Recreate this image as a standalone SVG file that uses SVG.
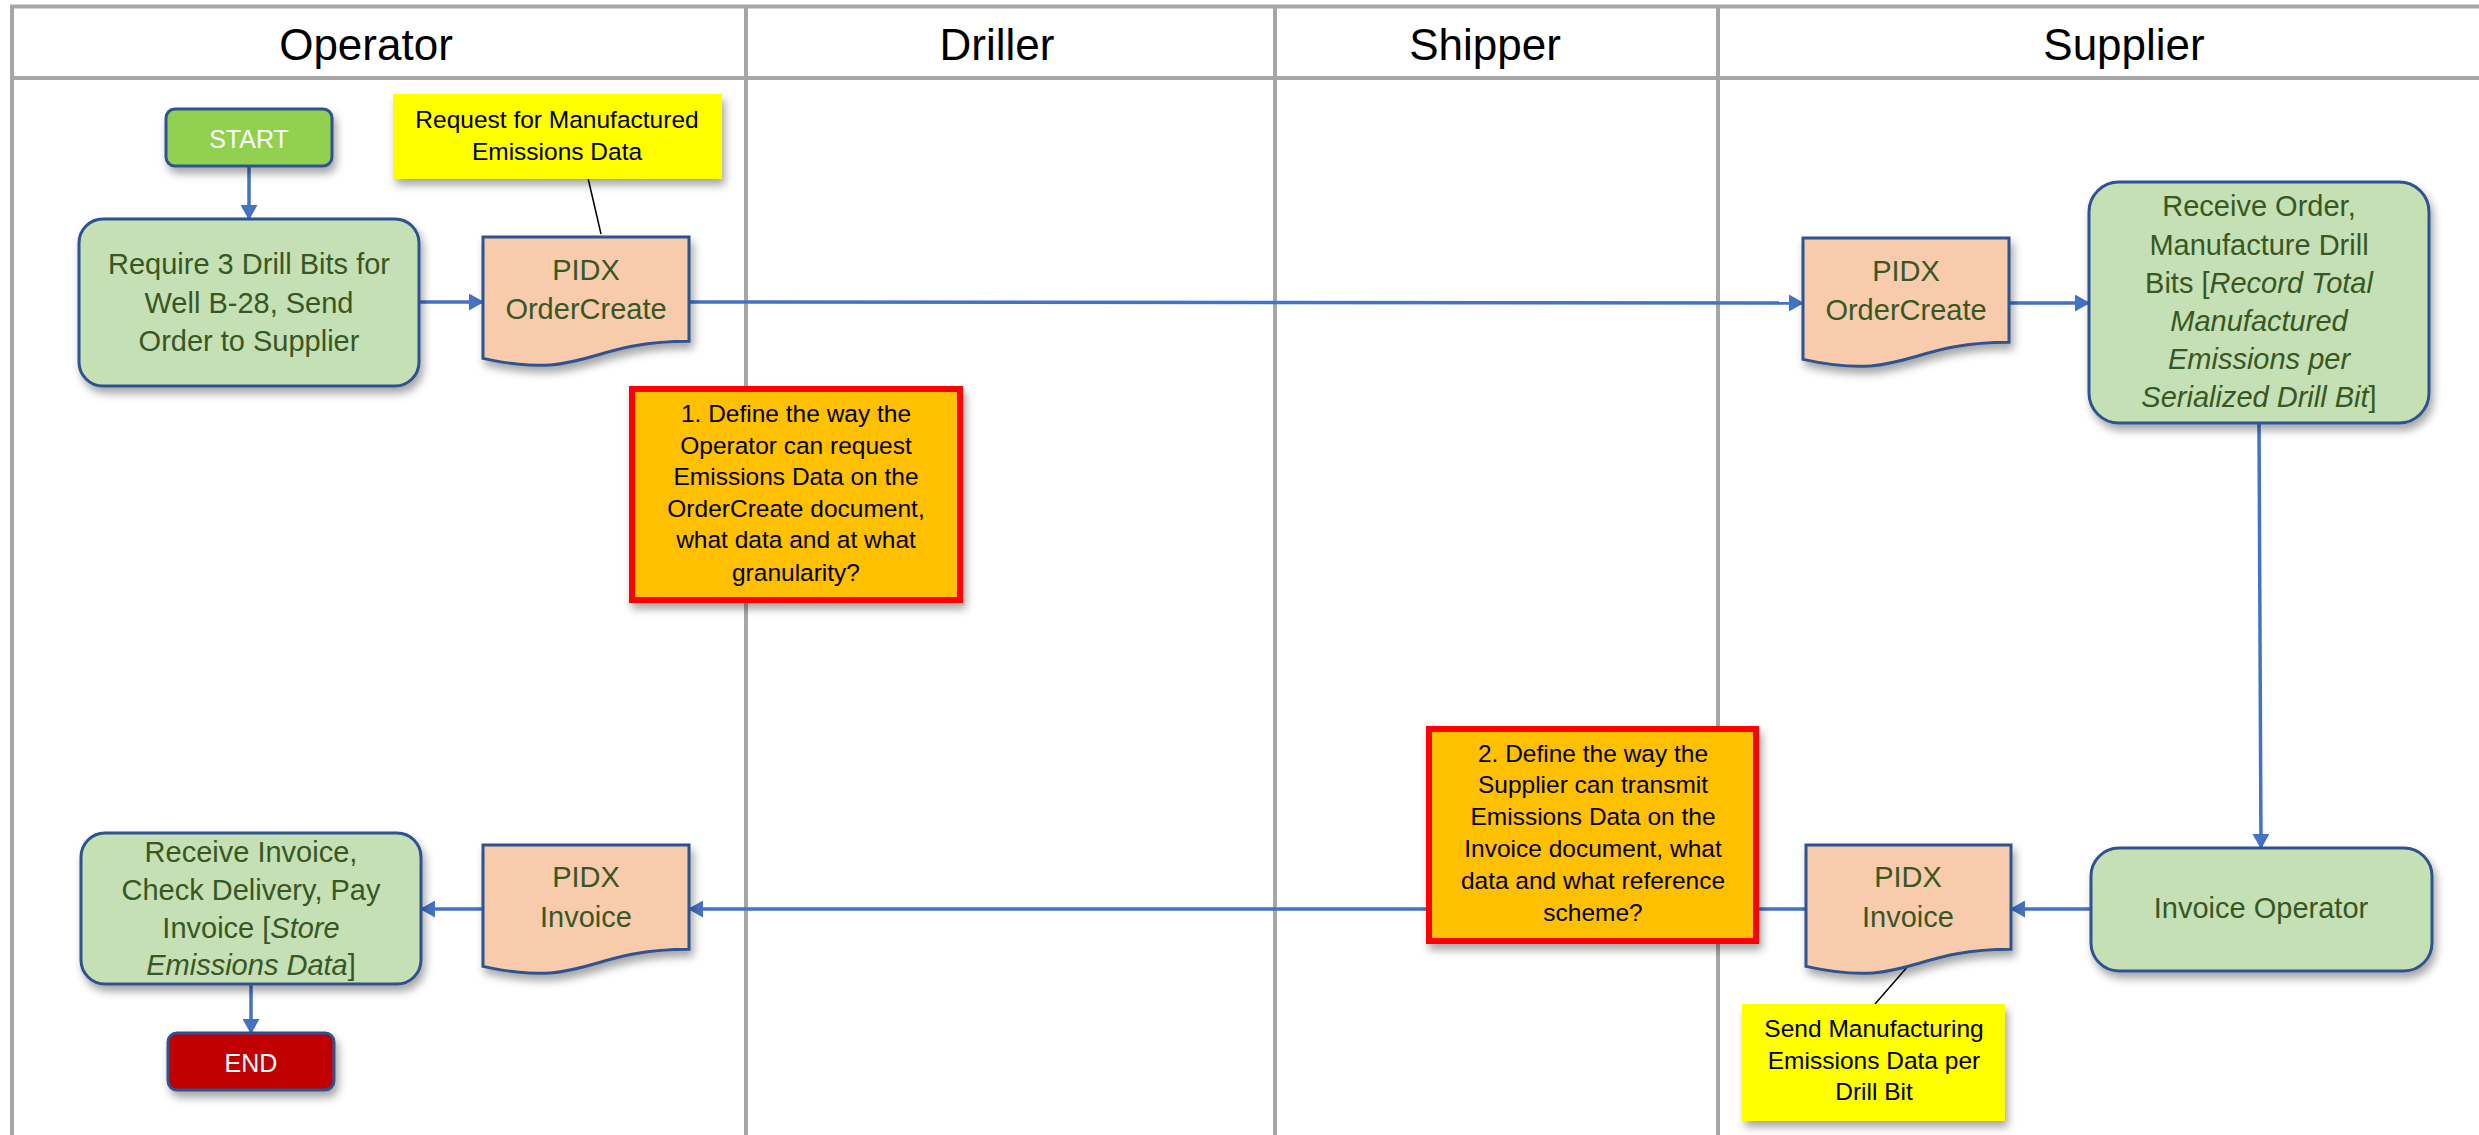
<svg xmlns="http://www.w3.org/2000/svg" width="2479" height="1135" viewBox="0 0 2479 1135">
<style>
text{font-family:"Liberation Sans",Arial,sans-serif}
.hdr{font-size:44px;fill:#000;text-anchor:middle}
.gt{font-size:29px;fill:#385723;text-anchor:middle}
.wt{font-size:25px;fill:#fff;text-anchor:middle}
.nt{font-size:24.5px;fill:#000;text-anchor:middle}
.it{font-style:italic}
.lane{stroke:#A6A6A6;stroke-width:4;fill:none}
.conn{stroke:#4472C4;stroke-width:3.5;fill:none}
.call{stroke:#000;stroke-width:1.5;fill:none}
.green{fill:#C5E0B4;stroke:#2F528F;stroke-width:3}
.doc{fill:#F8CBAD;stroke:#2F528F;stroke-width:3}
.note{fill:#FFC000;stroke:#FF0000;stroke-width:6}
.yel{fill:#FFFF00}
</style>
<defs>
<filter id="sh" x="-10%" y="-10%" width="130%" height="140%">
<feDropShadow dx="3" dy="6" stdDeviation="4" flood-color="#000" flood-opacity="0.35"/>
</filter>
<marker id="arr" markerUnits="userSpaceOnUse" markerWidth="15" markerHeight="17" refX="14" refY="8.5" orient="auto">
<path d="M0,0 L15,8.5 L0,17 Z" fill="#4472C4"/>
</marker>
</defs>
<rect width="2479" height="1135" fill="#fff"/>
<g id="lanes">
<line class="lane" x1="10" y1="6.5" x2="2479" y2="6.5"/>
<line class="lane" x1="12" y1="78" x2="2479" y2="78"/>
<line class="lane" x1="12" y1="5" x2="12" y2="1135"/>
<line class="lane" x1="746" y1="5" x2="746" y2="1135"/>
<line class="lane" x1="1275" y1="5" x2="1275" y2="1135"/>
<line class="lane" x1="1718" y1="5" x2="1718" y2="1135"/>
<text class="hdr" x="366" y="60">Operator</text>
<text class="hdr" x="997" y="60">Driller</text>
<text class="hdr" x="1485" y="60">Shipper</text>
<text class="hdr" x="2124" y="60">Supplier</text>
</g>
<g id="connectors">
<line class="conn" x1="249" y1="166" x2="249" y2="219" marker-end="url(#arr)"/>
<line class="conn" x1="419" y1="302" x2="483" y2="302" marker-end="url(#arr)"/>
<line class="conn" x1="689" y1="302" x2="1803" y2="303" marker-end="url(#arr)"/>
<line class="conn" x1="2009" y1="303" x2="2089" y2="303" marker-end="url(#arr)"/>
<line class="conn" x1="2259" y1="423" x2="2261" y2="848" marker-end="url(#arr)"/>
<line class="conn" x1="2091" y1="909" x2="2011" y2="909" marker-end="url(#arr)"/>
<line class="conn" x1="1806" y1="909" x2="689" y2="909" marker-end="url(#arr)"/>
<line class="conn" x1="483" y1="909" x2="421" y2="909" marker-end="url(#arr)"/>
<line class="conn" x1="251" y1="984" x2="251" y2="1033" marker-end="url(#arr)"/>
<line class="call" x1="588" y1="178" x2="601" y2="234"/>
<line class="call" x1="1909" y1="965" x2="1875" y2="1004"/>
</g>
<g id="start">
<rect x="166" y="109" width="166" height="57" rx="9" fill="#92D050" stroke="#2F528F" stroke-width="3" filter="url(#sh)"/>
<text class="wt" x="249" y="148">START</text>
</g>
<g id="require">
<rect class="green" x="79" y="219" width="340" height="167" rx="24" filter="url(#sh)"/>
<text class="gt"><tspan x="249" y="274">Require 3 Drill Bits for</tspan><tspan x="249" y="313">Well B-28, Send</tspan><tspan x="249" y="351">Order to Supplier</tspan></text>
</g>
<g id="note-request">
<rect class="yel" x="393" y="94" width="329" height="85" filter="url(#sh)"/>
<text class="nt"><tspan x="557" y="128">Request for Manufactured</tspan><tspan x="557" y="160">Emissions Data</tspan></text>
</g>
<g id="doc-ordercreate-op">
<path class="doc" d="M483,237 H689 V341.3 C586,341.3 586,381 483,358.4 Z" filter="url(#sh)"/>
<text class="gt"><tspan x="586" y="280">PIDX</tspan><tspan x="586" y="319">OrderCreate</tspan></text>
</g>
<g id="question-1">
<rect class="note" x="632" y="389" width="328" height="211" filter="url(#sh)"/>
<text class="nt"><tspan x="796" y="422">1. Define the way the</tspan><tspan x="796" y="454">Operator can request</tspan><tspan x="796" y="485">Emissions Data on the</tspan><tspan x="796" y="517">OrderCreate document,</tspan><tspan x="796" y="548">what data and at what</tspan><tspan x="796" y="581">granularity?</tspan></text>
</g>
<g id="doc-ordercreate-sup">
<path class="doc" d="M1803,238 H2009 V342.3 C1906,342.3 1906,382 1803,359.4 Z" filter="url(#sh)"/>
<text class="gt"><tspan x="1906" y="281">PIDX</tspan><tspan x="1906" y="320">OrderCreate</tspan></text>
</g>
<g id="receive-order">
<rect class="green" x="2089" y="182" width="340" height="241" rx="30" filter="url(#sh)"/>
<text class="gt"><tspan x="2259" y="216">Receive Order,</tspan><tspan x="2259" y="255">Manufacture Drill</tspan><tspan x="2259" y="293">Bits [<tspan class="it">Record Total</tspan></tspan><tspan x="2259" y="331" class="it">Manufactured</tspan><tspan x="2259" y="369" class="it">Emissions per</tspan><tspan x="2259" y="407"><tspan class="it">Serialized Drill Bit</tspan>]</tspan></text>
</g>
<g id="invoice-operator">
<rect class="green" x="2091" y="848" width="341" height="123" rx="28" filter="url(#sh)"/>
<text class="gt" x="2261" y="918">Invoice Operator</text>
</g>
<g id="doc-invoice-sup">
<path class="doc" d="M1806,845 H2011 V949.3 C1908.5,949.3 1908.5,989 1806,966.4 Z" filter="url(#sh)"/>
<text class="gt"><tspan x="1908" y="887">PIDX</tspan><tspan x="1908" y="927">Invoice</tspan></text>
</g>
<g id="note-send">
<rect class="yel" x="1742" y="1004" width="263" height="117" filter="url(#sh)"/>
<text class="nt"><tspan x="1874" y="1037">Send Manufacturing</tspan><tspan x="1874" y="1069">Emissions Data per</tspan><tspan x="1874" y="1100">Drill Bit</tspan></text>
</g>
<g id="question-2">
<rect class="note" x="1429" y="729" width="327" height="212" filter="url(#sh)"/>
<text class="nt"><tspan x="1593" y="762">2. Define the way the</tspan><tspan x="1593" y="793">Supplier can transmit</tspan><tspan x="1593" y="825">Emissions Data on the</tspan><tspan x="1593" y="857">Invoice document, what</tspan><tspan x="1593" y="889">data and what reference</tspan><tspan x="1593" y="921">scheme?</tspan></text>
</g>
<g id="doc-invoice-op">
<path class="doc" d="M483,845 H689 V949.3 C586,949.3 586,989 483,966.4 Z" filter="url(#sh)"/>
<text class="gt"><tspan x="586" y="887">PIDX</tspan><tspan x="586" y="927">Invoice</tspan></text>
</g>
<g id="receive-invoice">
<rect class="green" x="81" y="833" width="340" height="151" rx="24" filter="url(#sh)"/>
<text class="gt"><tspan x="251" y="862">Receive Invoice,</tspan><tspan x="251" y="900">Check Delivery, Pay</tspan><tspan x="251" y="938">Invoice [<tspan class="it">Store</tspan></tspan><tspan x="251" y="975"><tspan class="it">Emissions Data</tspan>]</tspan></text>
</g>
<g id="end">
<rect x="168" y="1033" width="166" height="57" rx="9" fill="#C00000" stroke="#2F528F" stroke-width="3" filter="url(#sh)"/>
<text class="wt" x="251" y="1072">END</text>
</g>
</svg>
